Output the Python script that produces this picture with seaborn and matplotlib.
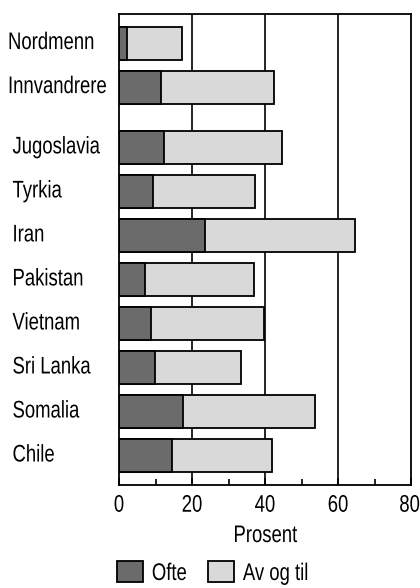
import matplotlib
matplotlib.use("Agg")
import matplotlib.pyplot as plt
from matplotlib.patches import Patch
from matplotlib.patheffects import AbstractPathEffect
from matplotlib.path import Path
from matplotlib.ticker import MultipleLocator
from matplotlib.transforms import Affine2D, ScaledTranslation
import numpy as np
import pandas as pd
import seaborn as sns

# Share of respondents, in percent
categories = ["Nordmenn", "Innvandrere", "Jugoslavia", "Tyrkia", "Iran",
              "Pakistan", "Vietnam", "Sri Lanka", "Somalia", "Chile"]
ofte = [2.3, 11.6, 12.2, 9.2, 23.6, 7.0, 8.8, 9.9, 17.4, 14.4]
av_og_til = [15.0, 30.8, 32.4, 28.1, 41.0, 29.9, 30.8, 23.6, 36.2, 27.6]
x_ticks = [0, 20, 40, 60, 80]
legend_labels = ["Ofte", "Av og til"]
x_label = "Prosent"


class Narrow(AbstractPathEffect):
    """Draw text glyphs horizontally condensed (a narrow face look)."""

    def __init__(self, sx=0.77, anchor="left"):
        super().__init__()
        self.sx = sx
        self.anchor = anchor

    def draw_path(self, renderer, gc, tpath, affine, rgbFace=None):
        v = tpath.vertices
        codes = tpath.codes
        if codes is not None:
            v = v[codes != Path.CLOSEPOLY]
        cx = 0.0
        if len(v):
            if self.anchor == "center":
                cx = (v[:, 0].min() + v[:, 0].max()) / 2
            elif self.anchor == "right":
                cx = v[:, 0].max()
        squeeze = Affine2D().translate(-cx, 0).scale(self.sx, 1).translate(cx, 0)
        renderer.draw_path(gc, tpath, squeeze + affine, rgbFace)


SX = 0.77
FS = 17.3

sns.set_style("white")
plt.rcParams["font.family"] = ["Liberation Sans", "DejaVu Sans"]
plt.rcParams["text.color"] = "black"
plt.rcParams["xtick.color"] = "black"
plt.rcParams["axes.labelcolor"] = "black"

dark = "#6b6b6b"
light = "#d9d9d9"

# the two summary rows sit apart from the country rows
n_summary = 2
group_gap = 0.37
pos = np.arange(len(categories), dtype=float)
pos[n_summary:] += group_gap

df = pd.DataFrame({
    "category": categories,
    "pos": pos,
    "ofte": ofte,
    "total": np.array(ofte) + np.array(av_og_til),
})

fig = plt.figure(figsize=(4.2, 5.88), dpi=100)
ax = fig.add_axes([119 / 420, 1 - 485 / 588, 292 / 420, 471 / 588])

for xv in (20, 40, 60):
    ax.axvline(xv, color="black", lw=1.2, zorder=0)

bar_kw = dict(y="pos", orient="y", native_scale=True, width=0.75,
              edgecolor="black", linewidth=1.3, errorbar=None,
              saturation=1, ax=ax, zorder=2)
sns.barplot(data=df, x="total", color=light, **bar_kw)
sns.barplot(data=df, x="ofte", color=dark, **bar_kw)

ax.set_xlim(0, 80)
ax.set_ylim(pos[-1] + 0.67, pos[0] - 0.66)
ax.set_xticks(x_ticks, labels=[str(t) for t in x_ticks])
ax.xaxis.set_minor_locator(MultipleLocator(10))
ax.tick_params(axis="x", which="major", direction="in", length=5, width=1.2,
               pad=7, labelsize=FS, bottom=True, top=False)
ax.tick_params(axis="x", which="minor", direction="in", length=4, width=1.2,
               bottom=True, top=False)
ax.set_yticks([])
ax.set_ylabel("")
ax.set_xlabel(x_label, fontsize=FS, labelpad=6)
ax.xaxis.label.set_path_effects([Narrow(SX, "center")])
major = ax.xaxis.get_major_ticks()
for tk in major[:-1]:
    tk.label1.set_path_effects([Narrow(SX, "center")])
# the last label is set flush right so it stays on the canvas
last = major[-1].label1
last.set_horizontalalignment("right")
last.set_path_effects([Narrow(SX, "right")])
last.set_transform(last.get_transform()
                   + ScaledTranslation(9 / 100, 0, fig.dpi_scale_trans))

for sp in ax.spines.values():
    sp.set_color("black")
    sp.set_linewidth(1.3)

# left-aligned row labels, country rows slightly indented
ytrans = ax.get_yaxis_transform()
for i, (name, p) in enumerate(zip(categories, pos)):
    xa = (8 - 119) / 292 if i < n_summary else (12.5 - 119) / 292
    ax.text(xa, p, name, transform=ytrans, ha="left", va="center",
            fontsize=FS, path_effects=[Narrow(SX)])

handles = [Patch(facecolor=dark, edgecolor="black", linewidth=1.3),
           Patch(facecolor=light, edgecolor="black", linewidth=1.3)]
leg = fig.legend(handles, legend_labels, loc="lower left",
                 bbox_to_anchor=(105 / 420, -9 / 588), ncol=2, frameon=False,
                 borderpad=0, handlelength=1.08, handleheight=0.96,
                 handletextpad=0.37, columnspacing=0.45, fontsize=FS)
for t in leg.get_texts():
    t.set_path_effects([Narrow(SX)])

fig.savefig("out.png", dpi=100)
